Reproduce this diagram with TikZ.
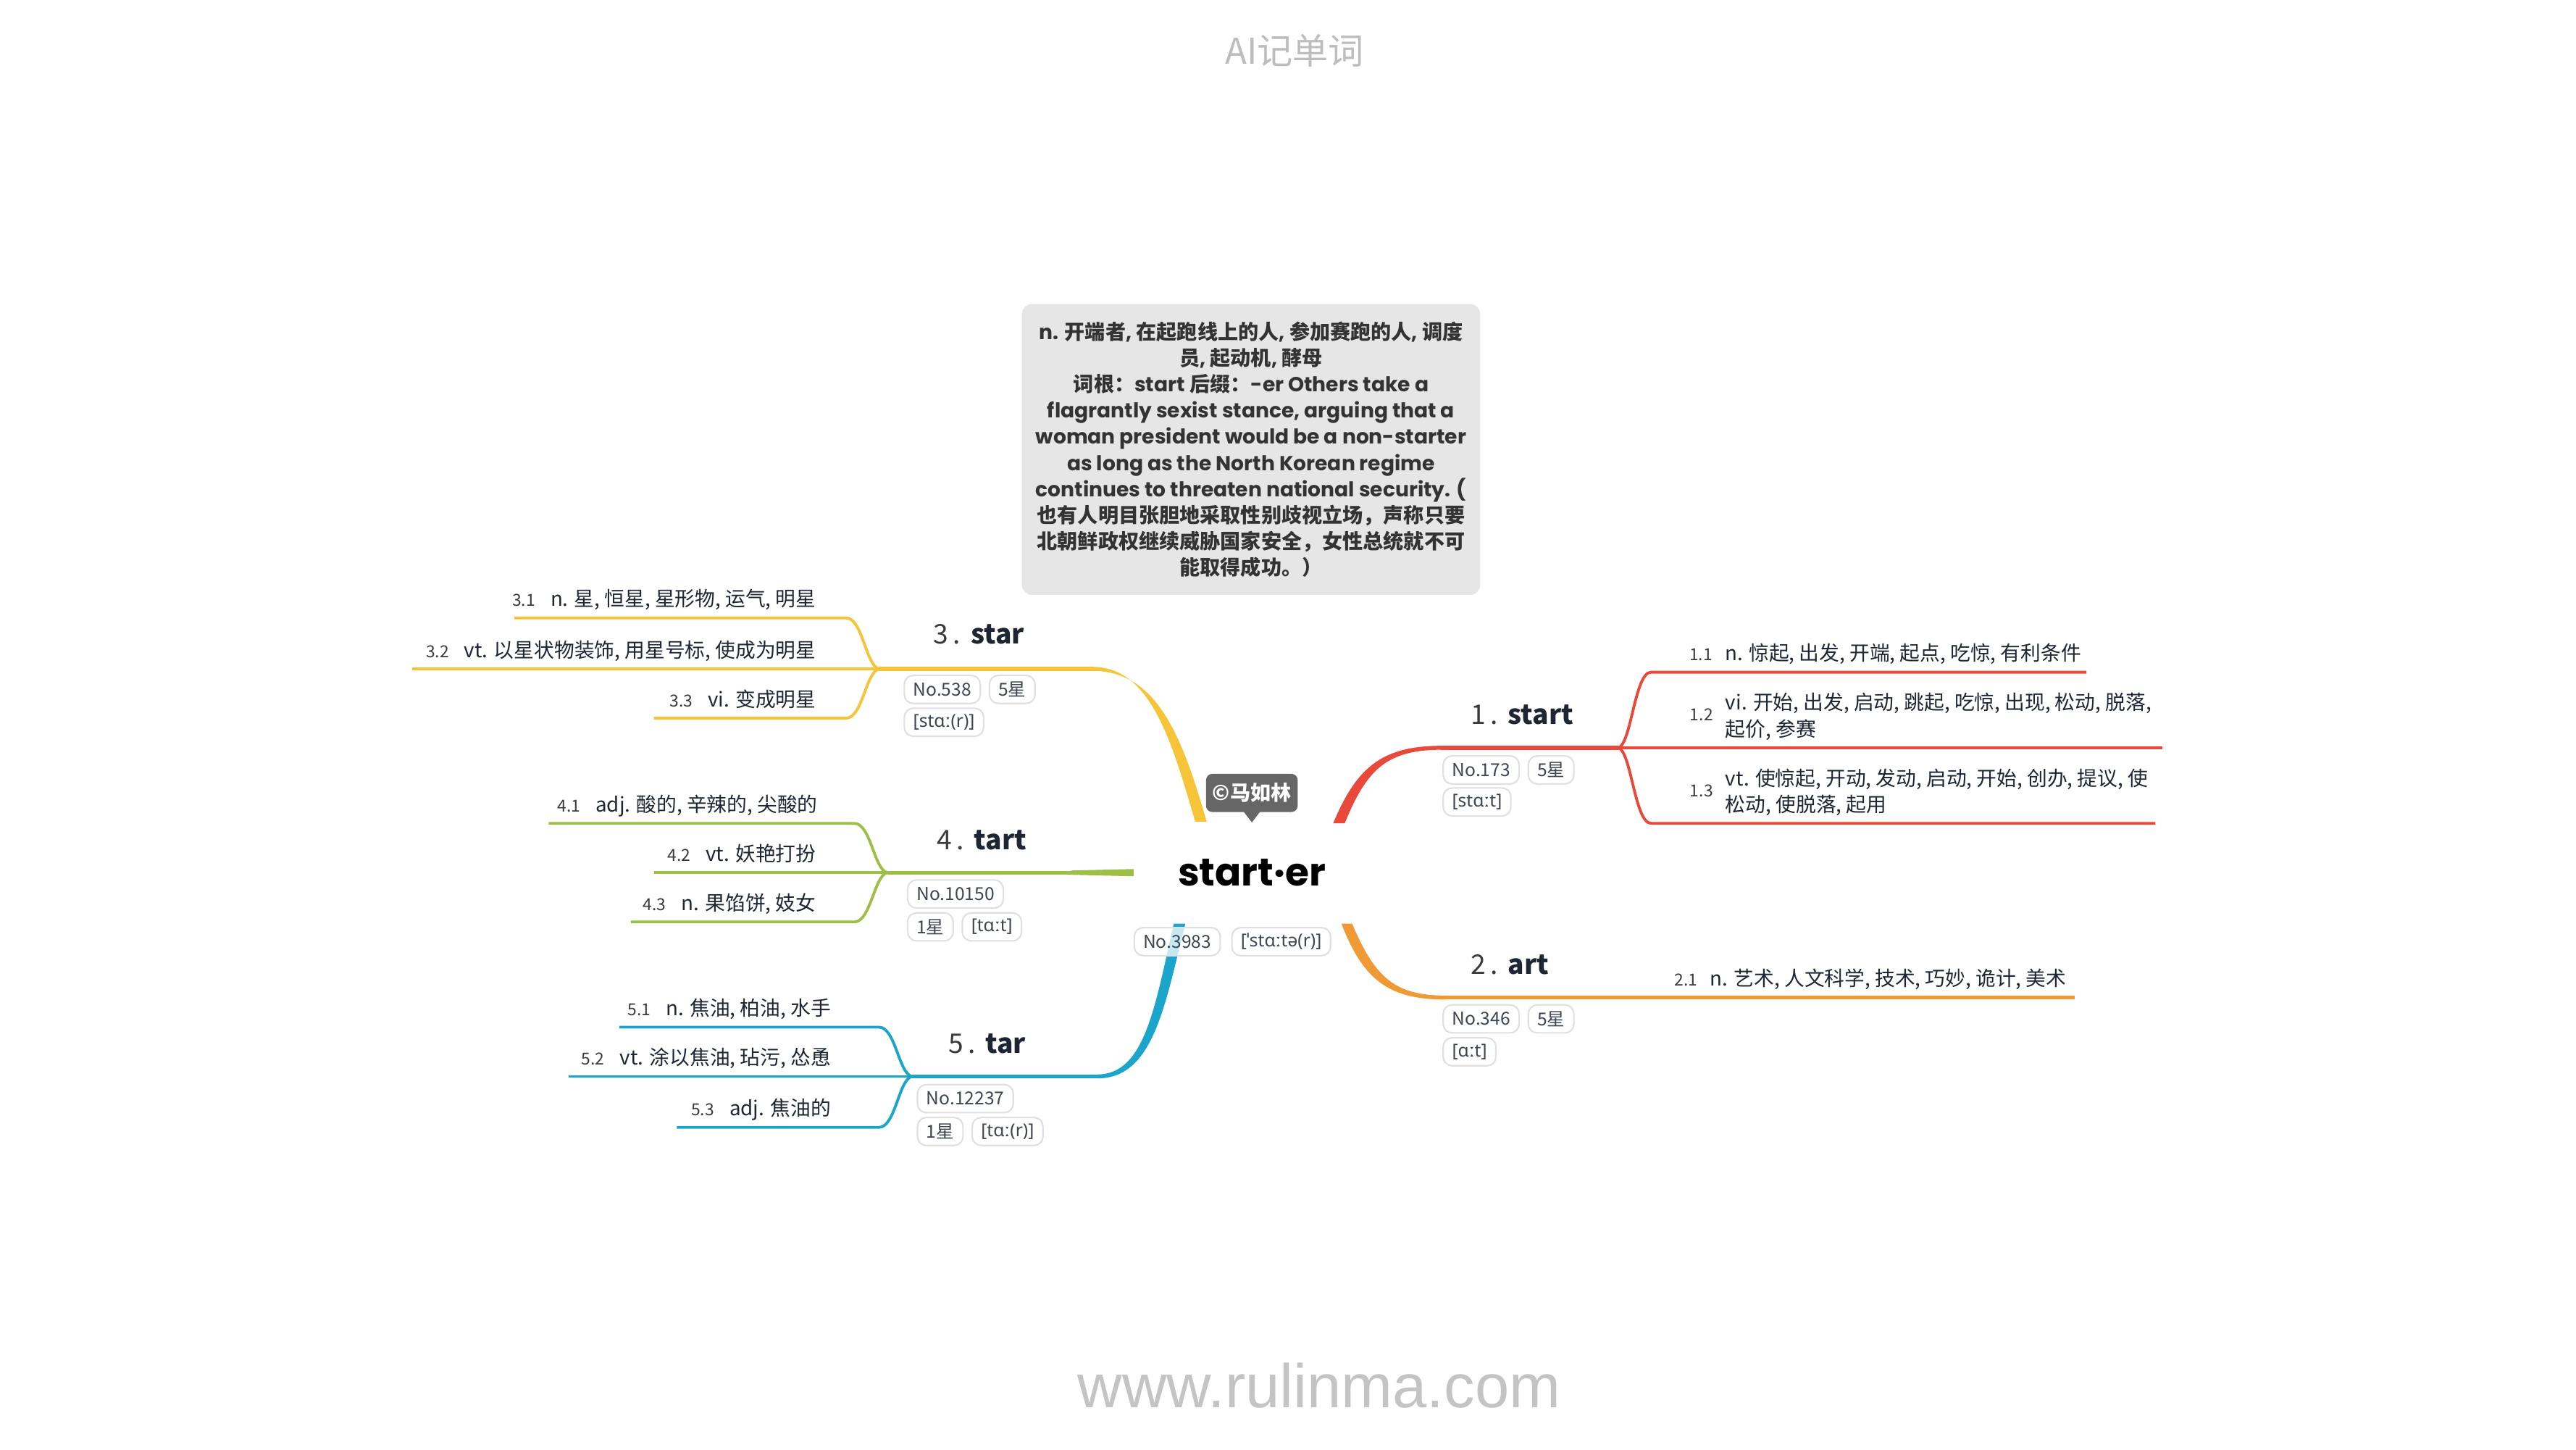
\documentclass[tikz,border=0pt]{standalone}
\usepackage{fontspec}
\setmainfont{Noto Sans CJK SC}
\newfontfamily\popf{Poppins}
\newfontfamily\ipaf{Noto Sans}
\newfontfamily\libf{Liberation Sans}
\usetikzlibrary{calc}
\definecolor{cred}{HTML}{E8493B}
\definecolor{corange}{HTML}{F09A35}
\definecolor{cyellow}{HTML}{F6C438}
\definecolor{cgreen}{HTML}{9DBE47}
\definecolor{cblue}{HTML}{1CA5CA}
\definecolor{notebg}{HTML}{E6E6E6}
\definecolor{notetxt}{HTML}{333333}
\definecolor{tagbd}{HTML}{E0E0E0}
\definecolor{tagtx}{HTML}{3D4550}
\definecolor{subtx}{HTML}{1E2633}
\definecolor{numtx}{HTML}{3A3A3A}
\definecolor{callgray}{HTML}{666666}
\definecolor{wmgray}{HTML}{BDBDBD}
\newcommand\lat[1]{{\popf\bfseries #1}}
\newcommand\numf{\fontsize{6.5}{7.5}\selectfont\color{numtx}}
\begin{document}
\begin{tikzpicture}[x=0.02268cm,y=-0.02268cm,
  tag/.style={draw=tagbd, line width=0.6pt, rounded corners=3.5pt, fill=white, fill opacity=0.75, text opacity=1, text=tagtx, font=\fontsize{7}{8}\selectfont, inner xsep=3.5pt, inner ysep=0pt, minimum height=11pt, anchor=west},
  subtext/.style={text=subtx, font=\fontsize{7.9}{10}\selectfont, inner sep=0pt},
  numtext/.style={text=numtx, font=\fontsize{6.5}{7.5}\selectfont, inner sep=0pt},
  brlabel/.style={text=subtx, font=\fontsize{10.6}{12}\selectfont, inner sep=0pt, anchor=west},
  subline/.style={line width=1.1pt},
  mainline/.style={line width=1.5pt}]
\useasboundingbox (0,0) rectangle (1568,882);
\fill[white] (0,0) rectangle (1568,882);

% watermark texts
\node[text=wmgray, font=\fontsize{14}{16}\selectfont] (title) at (788,31) {AI记单词};
\node[text=wmgray!90, font=\libf\fontsize{24.2}{28}\selectfont] (foot) at (803,843) {www.rulinma.com};

% note box
\node[fill=notebg, rounded corners=4pt, minimum width=180pt, minimum height=114.2pt, text=notetxt, align=center, font=\fontsize{8}{10.3}\selectfont\bfseries] (note) at (761.5,273.5) {%
\lat{n.} 开端者\lat{,} 在起跑线上的人\lat{,} 参加赛跑的人\lat{,} 调度\\
员\lat{,} 起动机\lat{,} 酵母\\
词根：\lat{start} 后缀：\lat{-er Others take a}\\
\lat{flagrantly sexist stance, arguing that a}\\
\lat{woman president would be a non-starter}\\
\lat{as long as the North Korean regime}\\
\lat{continues to threaten national security. (}\\
也有人明目张胆地采取性别歧视立场，声称只要\\
北朝鲜政权继续威胁国家安全，女性总统就不可\\
能取得成功。）};

% central word and callout
\node[inner sep=0pt, font=\popf\bfseries\fontsize{15.2}{17}\selectfont] (c) at (762,531) {start·er};
\node[fill=callgray, rounded corners=2.5pt, minimum width=36pt, minimum height=15pt, text=white, inner sep=1pt, font=\fontsize{8}{9}\selectfont\bfseries] (cp) at (762,482.5) {©马如林};
\fill[callgray] ($(cp.south)+(-5,-0.5)$) -- ($(cp.south)+(5,-0.5)$) -- ($(cp.south)+(0,6)$) -- cycle;

% split / bend / end coordinates
\coordinate (s1) at (985,455);
\coordinate (k11) at (1005,409); \coordinate (e11) at (1270,409);
\coordinate (e12) at (1316,455);
\coordinate (k13) at (1005,501); \coordinate (e13) at (1312,501);
\coordinate (e21) at (1263,607);
\coordinate (s3) at (535,407);
\coordinate (k31) at (515,376); \coordinate (e31) at (313,376);
\coordinate (e32) at (251,407);
\coordinate (k33) at (515,437); \coordinate (e33) at (398,437);
\coordinate (s4) at (540,531);
\coordinate (k41) at (520,501); \coordinate (e41) at (334,501);
\coordinate (e42) at (398,531);
\coordinate (k43) at (520,561); \coordinate (e43) at (384,561);
\coordinate (s5) at (555,655);
\coordinate (k51) at (535,625); \coordinate (e51) at (377,625);
\coordinate (e52) at (346,655);
\coordinate (k53) at (535,686); \coordinate (e53) at (412,686);

% branch 1 (red)
\fill[cred] (811.5,501) .. controls (826,466) and (842,453.8) .. (878,453.8) -- (878,456.2) .. controls (844,456.2) and (832,468) .. (818.5,501) -- cycle;
\draw[cred, mainline] (877,455) -- (s1);
\draw[cred, subline] (s1) .. controls +(8,-2) and +(-10,0) .. (k11) -- (e11);
\draw[cred, subline] (s1) -- (e12);
\draw[cred, subline] (s1) .. controls +(8,2) and +(-10,0) .. (k13) -- (e13);

% branch 2 (orange)
\fill[corange] (816.5,562) .. controls (830,597) and (846,608.2) .. (880,608.2) -- (880,605.8) .. controls (849,605.8) and (837,595) .. (823,562) -- cycle;
\draw[corange, mainline] (879,607) -- (e21);

% branch 3 (yellow)
\fill[cyellow] (734.5,500) .. controls (720,450) and (705,408.2) .. (665,408.2) -- (665,405.8) .. controls (700,405.8) and (713,450) .. (727.5,500) -- cycle;
\draw[cyellow, mainline] (666,407) -- (s3);
\draw[cyellow, subline] (s3) .. controls +(-8,-2) and +(10,0) .. (k31) -- (e31);
\draw[cyellow, subline] (s3) -- (e32);
\draw[cyellow, subline] (s3) .. controls +(-8,2) and +(10,0) .. (k33) -- (e33);

% branch 4 (green)
\fill[cgreen] (690,528.8) -- (652,529.7) -- (652,532.3) -- (690,533.2) -- cycle;
\draw[cgreen, mainline] (653,531) -- (s4);
\draw[cgreen, subline] (s4) .. controls +(-8,-2) and +(10,0) .. (k41) -- (e41);
\draw[cgreen, subline] (s4) -- (e42);
\draw[cgreen, subline] (s4) .. controls +(-8,2) and +(10,0) .. (k43) -- (e43);

% branch 5 (blue)
\fill[cblue] (721.5,562) .. controls (709,612) and (702,656.2) .. (668,656.2) -- (668,653.8) .. controls (697,653.8) and (703,612) .. (714.5,562) -- cycle;
\draw[cblue, mainline] (669,655) -- (s5);
\draw[cblue, subline] (s5) .. controls +(-8,-2) and +(10,0) .. (k51) -- (e51);
\draw[cblue, subline] (s5) -- (e52);
\draw[cblue, subline] (s5) .. controls +(-8,2) and +(10,0) .. (k53) -- (e53);

% branch labels
\node[brlabel] (b1) at (895,435) {{\color{numtx}1\,.}\hspace{4pt}\textbf{start}};
\node[brlabel] (b2) at (895,587) {{\color{numtx}2\,.}\hspace{4pt}\textbf{art}};
\node[brlabel] (b3) at (568,386) {{\color{numtx}3\,.}\hspace{4pt}\textbf{star}};
\node[brlabel] (b4) at (570,511) {{\color{numtx}4\,.}\hspace{4pt}\textbf{tart}};
\node[brlabel] (b5) at (577,635) {{\color{numtx}5\,.}\hspace{4pt}\textbf{tar}};

% tags
\node[tag] (t1n) at (878,468.5) {No.173};
\node[tag] (t1s) at ([xshift=3pt]t1n.east) {5星};
\node[tag] (t1p) at (878,488) {\ipaf [stɑːt]};
\node[tag] (t2n) at (878,620) {No.346};
\node[tag] (t2s) at ([xshift=3pt]t2n.east) {5星};
\node[tag] (t2p) at (878,640) {\ipaf [ɑːt]};
\node[tag] (t3n) at (550,419.5) {No.538};
\node[tag] (t3s) at ([xshift=3pt]t3n.east) {5星};
\node[tag] (t3p) at (550,439.5) {\ipaf [stɑː(r)]};
\node[tag] (t4n) at (552,544) {No.10150};
\node[tag] (t4s) at (552,564) {1星};
\node[tag] (t4p) at ([xshift=3pt]t4s.east) {\ipaf [tɑːt]};
\node[tag] (t5n) at (558,668.5) {No.12237};
\node[tag] (t5s) at (558,688.5) {1星};
\node[tag] (t5p) at ([xshift=3pt]t5s.east) {\ipaf [tɑː(r)]};
\node[tag] (tcn) at (690,573) {No.3983};
\node[tag] (tcp) at ([xshift=4pt]tcn.east) {\ipaf [ˈstɑːtə(r)]};

% sub-branch texts, right side
\node[subtext, anchor=base west] (t11) at (1028,402) {{\numf 1.1}\hspace{5pt}n. 惊起, 出发, 开端, 起点, 吃惊, 有利条件};
\node[numtext, anchor=east] (n12) at (1043,435) {1.2};
\node[subtext, anchor=base west] (t12a) at (1050,432) {vi. 开始, 出发, 启动, 跳起, 吃惊, 出现, 松动, 脱落,};
\node[subtext, anchor=base west] (t12b) at (1050,448) {起价, 参赛};
\node[numtext, anchor=east] (n13) at (1043,481) {1.3};
\node[subtext, anchor=base west] (t13a) at (1050,478) {vt. 使惊起, 开动, 发动, 启动, 开始, 创办, 提议, 使};
\node[subtext, anchor=base west] (t13b) at (1050,494) {松动, 使脱落, 起用};
\node[subtext, anchor=base west] (t21) at (1019,600) {{\numf 2.1}\hspace{5pt}n. 艺术, 人文科学, 技术, 巧妙, 诡计, 美术};

% sub-branch texts, left side
\node[subtext, anchor=base east] (t31) at (497,369) {{\numf 3.1}\hspace{6pt}n. 星, 恒星, 星形物, 运气, 明星};
\node[subtext, anchor=base east] (t32) at (497,400) {{\numf 3.2}\hspace{6pt}vt. 以星状物装饰, 用星号标, 使成为明星};
\node[subtext, anchor=base east] (t33) at (497,430) {{\numf 3.3}\hspace{6pt}vi. 变成明星};
\node[subtext, anchor=base east] (t41) at (498,494) {{\numf 4.1}\hspace{6pt}adj. 酸的, 辛辣的, 尖酸的};
\node[subtext, anchor=base east] (t42) at (497,524) {{\numf 4.2}\hspace{6pt}vt. 妖艳打扮};
\node[subtext, anchor=base east] (t43) at (497,554) {{\numf 4.3}\hspace{6pt}n. 果馅饼, 妓女};
\node[subtext, anchor=base east] (t51) at (506,618) {{\numf 5.1}\hspace{6pt}n. 焦油, 柏油, 水手};
\node[subtext, anchor=base east] (t52) at (506,648) {{\numf 5.2}\hspace{6pt}vt. 涂以焦油, 玷污, 怂恿};
\node[subtext, anchor=base east] (t53) at (506,679) {{\numf 5.3}\hspace{6pt}adj. 焦油的};
\end{tikzpicture}
\end{document}
